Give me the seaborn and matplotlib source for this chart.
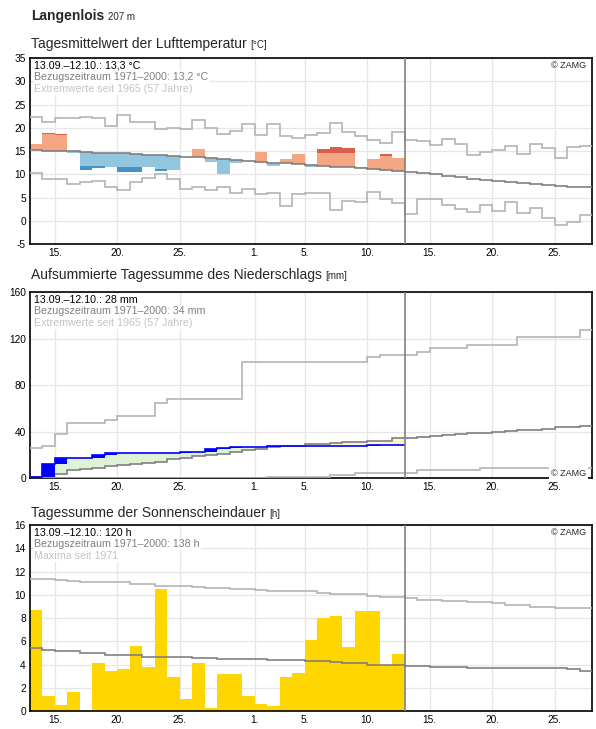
import numpy as np
import pandas as pd
import seaborn as sns
import matplotlib.pyplot as plt

# Tage ab 13.09. (Index 0) bis 27.10. (Index 44); "heute" = Beginn 13.10. (Index 30)
n_obs = 30
n_all = 45
tick_pos = [2, 7, 12, 18, 22, 27, 32, 37, 42]
tick_labels = ['15.', '20.', '25.', '1.', '5.', '10.', '15.', '20.', '25.']

# Lufttemperatur (Tagesmittel, °C)
temp_obs = [16.6, 18.8, 18.6, 14.6, 10.9, 11.4, 11.5, 10.5, 10.5, 11.5,
            10.6, 10.9, 13.8, 15.4, 12.6, 10.1, 12.4, 12.9, 14.7, 11.8,
            13.2, 14.3, 11.6, 15.4, 15.8, 15.6, 11.5, 13.2, 14.3, 13.4]
temp_mean = [15.3, 15.1, 15.1, 14.9, 14.7, 14.6, 14.5, 14.5, 14.4, 14.2,
             14.1, 13.9, 13.8, 13.7, 13.5, 13.2, 13.0, 12.9, 12.7, 12.5,
             12.4, 12.2, 11.95, 11.8, 11.6, 11.5, 11.3, 11.1, 10.9, 10.7,
             10.45, 10.2, 10.0, 9.7, 9.4, 9.0, 8.8, 8.6, 8.3, 8.1,
             7.9, 7.7, 7.5, 7.3, 7.3]
temp_max = [22.4, 21.2, 22.1, 22.1, 22.3, 22.1, 20.4, 22.8, 21.2, 21.2,
            19.8, 19.9, 19.8, 21.6, 20.0, 18.7, 19.3, 20.8, 18.4, 20.8,
            18.2, 17.9, 18.4, 18.8, 21.0, 19.0, 18.3, 17.4, 16.7, 19.0,
            17.4, 17.2, 16.2, 17.5, 16.5, 14.1, 14.7, 15.2, 16.0, 14.3,
            16.5, 15.7, 13.5, 15.8, 16.0]
temp_min = [10.2, 9.0, 9.0, 7.9, 8.3, 8.5, 7.2, 6.6, 8.3, 9.1,
            10.0, 9.0, 6.8, 7.2, 6.6, 7.2, 6.0, 6.8, 5.8, 6.0,
            3.2, 5.8, 6.0, 6.0, 2.4, 4.2, 4.1, 6.2, 4.7, 3.8,
            1.5, 4.7, 4.7, 3.3, 2.5, 1.9, 3.4, 2.1, 4.0, 1.7,
            2.7, 0.6, -0.9, -0.3, 1.3]
temp_norm_hi = [18.9, 18.6, 18.4, 18.2, 18.0, 17.8, 17.6, 17.5, 17.3, 17.1,
                17.0, 16.8, 16.6, 16.4, 16.2, 16.0, 15.8, 15.6, 15.4, 15.2,
                15.0, 14.8, 14.6, 14.5, 14.5, 14.5, 14.3, 14.1, 13.9, 13.7]
temp_norm_lo = [12.0, 11.9, 11.9, 11.8, 11.8, 11.8, 11.5, 11.5, 11.5, 11.5,
                11.1, 10.8, 10.6, 10.4, 10.2, 10.0, 9.8, 9.6, 9.4, 9.2,
                9.0, 8.8, 8.6, 8.4, 8.2, 8.0, 7.9, 7.8, 7.6, 7.4]

# Niederschlag (mm)
rain_day = [1.1, 11.2, 4.9, 0.0, 0.0, 2.6, 1.7, 0.0, 0.0, 0.0,
            0.0, 0.0, 0.6, 0.5, 2.1, 0.8, 0.9, 0.0, 0.0, 1.1,
            0.0, 0.0, 0.0, 0.0, 0.0, 0.0, 0.0, 0.6, 0.0, 0.3]
rain_mean_cum = [1.1, 3.7, 3.7, 6.6, 7.7, 8.6, 10.0, 10.9, 11.8, 12.6,
                 13.8, 16.3, 17.5, 18.6, 19.5, 20.4, 22.1, 24.1, 25.2, 26.4,
                 27.5, 27.5, 29.0, 29.0, 29.8, 31.3, 31.3, 32.1, 32.1, 34.1,
                 34.4, 35.5, 36.1, 36.7, 37.6, 38.4, 39.0, 39.6, 40.4, 41.0,
                 41.6, 42.5, 43.6, 44.2, 44.5]
rain_max_cum = [25.6, 27.6, 37.7, 47.2, 47.2, 47.2, 50.1, 53.0, 53.0, 53.0,
                64.5, 68.2, 68.2, 68.2, 68.2, 68.2, 68.2, 99.7, 99.7, 99.7,
                99.7, 99.7, 99.7, 99.7, 99.7, 99.7, 99.7, 103.8, 105.5, 105.5,
                105.5, 108.4, 111.5, 111.5, 111.5, 114.4, 114.4, 114.4, 114.4, 121.0,
                121.0, 121.0, 121.0, 121.0, 127.3]
rain_min_cum = [0.0, 0.0, 0.0, 0.0, 0.0, 0.0, 0.0, 0.0, 0.0, 0.0,
                0.0, 0.0, 0.0, 0.0, 0.0, 0.0, 0.0, 0.0, 0.0, 0.6,
                1.1, 1.1, 1.1, 1.1, 2.9, 2.9, 4.3, 4.3, 4.3, 4.3,
                4.3, 6.9, 6.9, 6.9, 6.9, 6.9, 8.3, 8.3, 8.3, 8.3,
                8.3, 8.3, 8.3, 8.3, 8.3]

# Sonnenscheindauer (h)
sun_obs = [8.7, 1.3, 0.5, 1.6, 0.0, 4.1, 3.4, 3.6, 5.6, 3.8,
           10.5, 2.9, 1.0, 4.1, 0.3, 3.2, 3.2, 1.3, 0.6, 0.4,
           2.9, 3.3, 6.1, 8.0, 8.2, 5.5, 8.6, 8.6, 4.0, 4.9]
sun_mean = [5.4, 5.25, 5.15, 5.15, 5.0, 5.0, 4.85, 4.85, 4.85, 4.65,
            4.65, 4.65, 4.65, 4.6, 4.6, 4.5, 4.5, 4.45, 4.45, 4.4,
            4.4, 4.4, 4.3, 4.3, 4.25, 4.1, 4.1, 3.95, 3.95, 3.95,
            3.85, 3.85, 3.75, 3.75, 3.75, 3.7, 3.7, 3.7, 3.7, 3.7,
            3.7, 3.7, 3.7, 3.6, 3.4]
sun_max = [11.37, 11.37, 11.25, 11.19, 11.14, 11.14, 11.14, 11.08, 10.96, 10.9,
           10.79, 10.79, 10.73, 10.68, 10.59, 10.59, 10.5, 10.5, 10.45, 10.36,
           10.33, 10.33, 10.3, 10.19, 10.1, 10.04, 10.04, 9.93, 9.81, 9.81,
           9.76, 9.58, 9.58, 9.5, 9.5, 9.35, 9.35, 9.3, 9.15, 9.15,
           8.98, 8.98, 8.9, 8.9, 8.9]

C_MEAN = '#808080'
C_EXT = '#b4b4b4'

sns.set_theme(style='whitegrid')
plt.rcParams['font.family'] = ['Liberation Sans', 'DejaVu Sans']
plt.rcParams['axes.unicode_minus'] = False
plt.rcParams['axes.edgecolor'] = 'black'
plt.rcParams['grid.color'] = '#e6e6e6'
plt.rcParams['grid.linewidth'] = 0.9

fig = plt.figure(figsize=(5.96, 7.29), dpi=100)
ax_t = fig.add_axes([0.0503, 0.6653, 0.943, 0.2551])
ax_r = fig.add_axes([0.0503, 0.3443, 0.943, 0.2551])
ax_s = fig.add_axes([0.0503, 0.0247, 0.943, 0.2551])

edges_obs = np.arange(n_obs + 1)
edges_all = np.arange(n_all + 1)
days = np.arange(n_obs)

# --- Temperatur ---
t = np.array(temp_obs)
m = np.array(temp_mean[:n_obs])
hi = np.array(temp_norm_hi)
lo = np.array(temp_norm_lo)
warm = t > m
cold = t < m
ax_t.bar(days[warm], np.minimum(t, hi)[warm] - m[warm], bottom=m[warm], width=1,
         align='edge', color='#f4a582', lw=0, zorder=2)
strong_w = t > hi
ax_t.bar(days[strong_w], t[strong_w] - hi[strong_w], bottom=hi[strong_w], width=1,
         align='edge', color='#d6604d', lw=0, zorder=2)
ax_t.bar(days[cold], np.maximum(t, lo)[cold] - m[cold], bottom=m[cold], width=1,
         align='edge', color='#92c5de', lw=0, zorder=2)
strong_c = t < lo
ax_t.bar(days[strong_c], t[strong_c] - lo[strong_c], bottom=lo[strong_c], width=1,
         align='edge', color='#4393c3', lw=0, zorder=2)
ax_t.stairs(temp_max, edges_all, baseline=None, color=C_EXT, lw=1.2, zorder=3)
ax_t.stairs(temp_min, edges_all, baseline=None, color=C_EXT, lw=1.2, zorder=3)
ax_t.stairs(temp_mean, edges_all, baseline=None, color=C_MEAN, lw=1.2, zorder=3)
ax_t.set_ylim(-5, 35)
ax_t.set_yticks(range(-5, 36, 5))

# --- Niederschlag ---
rain_cum = np.cumsum(rain_day)
rm = np.array(rain_mean_cum[:n_obs])
diff_col = np.where(rain_cum >= rm, '#dff2d6', '#fff4c2')
ax_r.bar(days, np.abs(rain_cum - rm), bottom=np.minimum(rain_cum, rm), width=1,
         align='edge', color=diff_col, lw=0, zorder=2)
ax_r.stairs(rain_max_cum, edges_all, baseline=None, color=C_EXT, lw=1.2, zorder=3)
ax_r.stairs(rain_min_cum, edges_all, baseline=None, color=C_EXT, lw=1.2, zorder=3)
ax_r.stairs(rain_mean_cum, edges_all, baseline=None, color=C_MEAN, lw=1.2, zorder=3)
ax_r.bar(days, rain_day, bottom=rain_cum - np.array(rain_day), width=1,
         align='edge', color='#0000ff', lw=0, zorder=4)
ax_r.stairs(rain_cum, edges_obs, baseline=None, color='#0000ff', lw=1.2, zorder=5)
ax_r.set_ylim(0, 160)
ax_r.set_yticks([0, 40, 80, 120, 160])

# --- Sonnenschein ---
sun_df = pd.DataFrame({'tag': days + 0.5, 'stunden': sun_obs})
sns.histplot(data=sun_df, x='tag', weights='stunden', binwidth=1, binrange=(0, n_obs),
             ax=ax_s, color='#ffd600', alpha=1, edgecolor=None, linewidth=0, zorder=2)
ax_s.stairs(sun_max, edges_all, baseline=None, color=C_EXT, lw=1.2, zorder=3)
ax_s.stairs(sun_mean, edges_all, baseline=None, color=C_MEAN, lw=1.2, zorder=3)
ax_s.set_ylim(0, 16)
ax_s.set_yticks(range(0, 17, 2))
ax_s.set_xlabel('')
ax_s.set_ylabel('')

info = {
    ax_t: ['13.09.–12.10.: 13,3 °C', 'Bezugszeitraum 1971–2000: 13,2 °C',
           'Extremwerte seit 1965 (57 Jahre)'],
    ax_r: ['13.09.–12.10.: 28 mm', 'Bezugszeitraum 1971–2000: 34 mm',
           'Extremwerte seit 1965 (57 Jahre)'],
    ax_s: ['13.09.–12.10.: 120 h', 'Bezugszeitraum 1971–2000: 138 h',
           'Maxima seit 1971'],
}
for ax in (ax_t, ax_r, ax_s):
    ax.set_xlim(0, n_all)
    ax.set_xticks(tick_pos)
    ax.set_xticklabels(tick_labels)
    ax.axvline(n_obs, color=C_MEAN, lw=1.2, zorder=6)
    ax.tick_params(length=0, labelsize=7.3, pad=3, colors='black')
    ax.grid(True, zorder=0)
    ax.set_axisbelow(True)
    for s in ax.spines.values():
        s.set_edgecolor('black')
        s.set_linewidth(1.2)
    for line, col, yy in zip(info[ax], ['black', '#808080', '#c4c4c4'],
                             [0.942, 0.880, 0.818]):
        ax.text(0.008, yy, line, transform=ax.transAxes, fontsize=7.7, color=col,
                va='baseline', zorder=7,
                bbox=dict(facecolor='white', edgecolor='none', pad=0.6))

ax_t.text(0.99, 0.945, '© ZAMG', transform=ax_t.transAxes, fontsize=6.5,
          ha='right', va='baseline', zorder=7)
ax_s.text(0.99, 0.945, '© ZAMG', transform=ax_s.transAxes, fontsize=6.5,
          ha='right', va='baseline', zorder=7)
ax_r.text(0.99, 0.012, '© ZAMG', transform=ax_r.transAxes, fontsize=6.5,
          ha='right', va='baseline', zorder=7,
          bbox=dict(facecolor='white', edgecolor='none', pad=1.5))

# Überschriften
head = fig.text(31 / 596, 1 - 20 / 729, 'Langenlois', fontsize=10, fontweight='bold',
                va='baseline')
fig.canvas.draw()


def add_unit(main, txt, size):
    bb = main.get_window_extent()
    x = bb.x1 / fig.bbox.width + 3.5 / 596
    fig.text(x, main.get_position()[1], txt, fontsize=size, va='baseline')


add_unit(head, '207 m', 7)
for ytop, title, unit in [(48, 'Tagesmittelwert der Lufttemperatur', '[°C]'),
                          (279, 'Aufsummierte Tagessumme des Niederschlags', '[mm]'),
                          (517, 'Tagessumme der Sonnenscheindauer', '[h]')]:
    tt = fig.text(31 / 596, 1 - ytop / 729, title, fontsize=10, va='baseline')
    fig.canvas.draw()
    add_unit(tt, unit, 7)

fig.savefig('out.png', dpi=100)
